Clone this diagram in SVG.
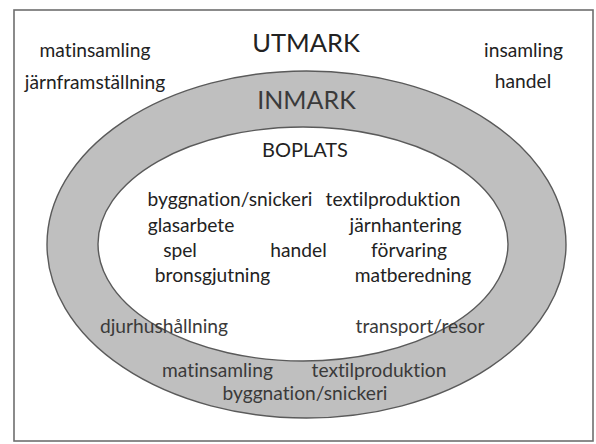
<svg xmlns="http://www.w3.org/2000/svg" width="596" height="444" viewBox="0 0 596 444">
<style>
text{font-family:Lato,"Open Sans","Liberation Sans",sans-serif;text-anchor:middle;fill:#222;font-variant-ligatures:none}
.t{font-size:19.2px}
.ring{fill:#3a3a3a}
.zone{stroke:#5a5a5a;stroke-width:1.4}
</style>
<rect x="0" y="0" width="596" height="444" fill="#fff"/>
<rect id="frame" x="14" y="10" width="579" height="431" fill="#fff" stroke="#6e6e6e" stroke-width="1.6"/>
<g id="inmark">
<ellipse class="zone" cx="306.5" cy="244.5" rx="259.5" ry="173.5" fill="#bfbfbf"/>
</g>
<g id="boplats">
<ellipse class="zone" cx="303" cy="244" rx="205" ry="117" fill="#fff"/>
</g>
<g id="utmark-labels">
<text x="306" y="52" font-size="25.5">UTMARK</text>
<text class="t" x="95" y="57">matinsamling</text>
<text class="t" x="95" y="89">järnframställning</text>
<text class="t" x="523.5" y="57">insamling</text>
<text class="t" x="523" y="88">handel</text>
</g>
<g id="inmark-labels">
<text class="ring" x="306.5" y="109" font-size="25">INMARK</text>
<text class="t ring" x="164" y="333">djurhushållning</text>
<text class="t ring" x="420" y="333">transport/resor</text>
<text class="t ring" x="217.5" y="377">matinsamling</text>
<text class="t ring" x="379" y="377">textilproduktion</text>
<text class="t ring" x="305" y="400">byggnation/snickeri</text>
</g>
<g id="boplats-labels">
<text x="305" y="157" font-size="20">BOPLATS</text>
<text class="t" x="230" y="206">byggnation/snickeri</text>
<text class="t" x="393" y="206">textilproduktion</text>
<text class="t" x="191" y="232">glasarbete</text>
<text class="t" x="405.5" y="232">järnhantering</text>
<text class="t" x="180" y="257">spel</text>
<text class="t" x="298.5" y="257">handel</text>
<text class="t" x="409" y="257">förvaring</text>
<text class="t" x="212.5" y="282">bronsgjutning</text>
<text class="t" x="413" y="282">matberedning</text>
</g>
<g id="connectors"></g>
</svg>
